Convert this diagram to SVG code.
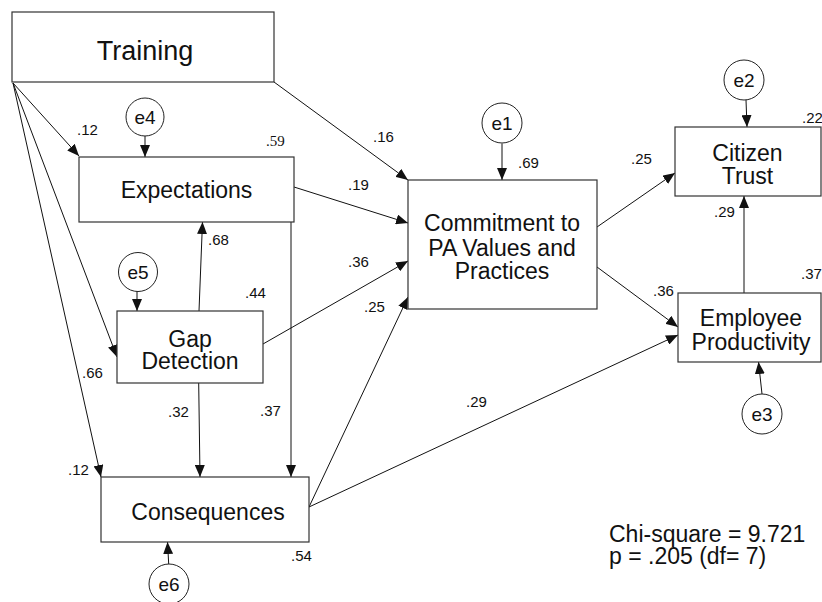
<svg xmlns="http://www.w3.org/2000/svg" width="822" height="602" viewBox="0 0 822 602">
<style>
.box{fill:#fff;stroke:#333;stroke-width:1.2}
.err{fill:#fff;stroke:#222;stroke-width:1}
.t{font-family:"Liberation Sans",Arial,sans-serif;font-size:23px;fill:#111;text-anchor:middle}
.et{font-family:"Liberation Sans",Arial,sans-serif;font-size:19px;fill:#111;text-anchor:middle}
.l{font-family:"Liberation Sans",Arial,sans-serif;font-size:15px;fill:#111}
.ls{font-family:"Liberation Serif","Times New Roman",serif;font-size:15px;fill:#111}
.fit{font-family:"Liberation Sans",Arial,sans-serif;font-size:23px;fill:#111}
.c line{stroke:#111;stroke-width:1;marker-end:url(#ah)}
</style>
<defs>
<marker id="ah" viewBox="0 0 12 10" refX="12" refY="5" markerWidth="12" markerHeight="10" markerUnits="userSpaceOnUse" orient="auto"><path d="M0,0 L12,5 L0,10 z" fill="#111"/></marker>
</defs>
<rect width="822" height="602" fill="#fff"/>
<g id="connectors" class="c">
<line x1="13" y1="83" x2="79" y2="156"/>
<line x1="13" y1="83" x2="117" y2="357"/>
<line x1="13" y1="83" x2="101" y2="477"/>
<line x1="274" y1="82" x2="408" y2="180"/>
<line x1="145" y1="136" x2="145" y2="157"/>
<line x1="137" y1="291" x2="137" y2="311"/>
<line x1="199" y1="311" x2="202.5" y2="222"/>
<line x1="198.7" y1="383" x2="200" y2="477"/>
<line x1="291" y1="222" x2="291" y2="477"/>
<line x1="294" y1="187" x2="408" y2="223"/>
<line x1="263" y1="344" x2="408" y2="261"/>
<line x1="309" y1="507" x2="408" y2="297"/>
<line x1="309" y1="507" x2="678" y2="335"/>
<line x1="168.7" y1="564" x2="167.5" y2="542"/>
<line x1="502" y1="143.5" x2="502" y2="180"/>
<line x1="597" y1="227" x2="675" y2="173"/>
<line x1="597" y1="267" x2="678" y2="327"/>
<line x1="744" y1="293" x2="744" y2="196"/>
<line x1="746" y1="100" x2="747" y2="127"/>
<line x1="762" y1="394" x2="758.5" y2="362"/>
</g>
<g id="training"><rect class="box" x="12" y="12" width="262" height="70"/><text class="t" x="145" y="60" style="font-size:27px">Training</text></g>
<g id="expectations"><rect class="box" x="79" y="157" width="215" height="65"/><text class="t" x="186.5" y="197.5">Expectations</text></g>
<g id="gap"><rect class="box" x="117" y="311" width="146" height="72"/><text class="t" x="190" y="346.5">Gap</text><text class="t" x="190" y="369">Detection</text></g>
<g id="consequences"><rect class="box" x="101" y="477" width="208" height="65"/><text class="t" x="208" y="520">Consequences</text></g>
<g id="commitment"><rect class="box" x="408" y="180" width="189" height="129"/><text class="t" x="502" y="231">Commitment to</text><text class="t" x="502" y="256">PA Values and</text><text class="t" x="502" y="279">Practices</text></g>
<g id="citizen"><rect class="box" x="675" y="127" width="146" height="69"/><text class="t" x="747.5" y="161">Citizen</text><text class="t" x="747.5" y="184">Trust</text></g>
<g id="productivity"><rect class="box" x="678" y="293" width="143" height="69"/><text class="t" x="751" y="326">Employee</text><text class="t" x="751" y="350">Productivity</text></g>
<g id="e4"><circle class="err" cx="145" cy="117" r="19"/><text class="et" x="145" y="124">e4</text></g>
<g id="e5"><circle class="err" cx="138" cy="272" r="19.5"/><text class="et" x="138" y="279">e5</text></g>
<g id="e6"><circle class="err" cx="169" cy="584" r="20"/><text class="et" x="169" y="591">e6</text></g>
<g id="e1"><circle class="err" cx="502" cy="123" r="20"/><text class="et" x="502" y="130">e1</text></g>
<g id="e2"><circle class="err" cx="744" cy="80" r="20"/><text class="et" x="744" y="87">e2</text></g>
<g id="e3"><circle class="err" cx="762" cy="414" r="20"/><text class="et" x="762" y="421">e3</text></g>
<g id="labels">
<text class="l" x="77" y="135">.12</text>
<text class="ls" x="266" y="145.5">.59</text>
<text class="l" x="373" y="142">.16</text>
<text class="l" x="348" y="190">.19</text>
<text class="l" x="348" y="267">.36</text>
<text class="l" x="364" y="312">.25</text>
<text class="l" x="518" y="168">.69</text>
<text class="l" x="208" y="245">.68</text>
<text class="l" x="245" y="298">.44</text>
<text class="l" x="82" y="378">.66</text>
<text class="l" x="68" y="475">.12</text>
<text class="l" x="168" y="417">.32</text>
<text class="l" x="260" y="416">.37</text>
<text class="l" x="291" y="561">.54</text>
<text class="l" x="466" y="407">.29</text>
<text class="l" x="631" y="164">.25</text>
<text class="l" x="653" y="296">.36</text>
<text class="l" x="714" y="217">.29</text>
<text class="l" x="801" y="279">.37</text>
<text class="l" x="802" y="123">.22</text>
</g>
<g id="fit">
<text class="fit" x="609" y="541.5">Chi-square = 9.721</text>
<text class="fit" x="609" y="563.5">p = .205 (df= 7)</text>
</g>
</svg>
